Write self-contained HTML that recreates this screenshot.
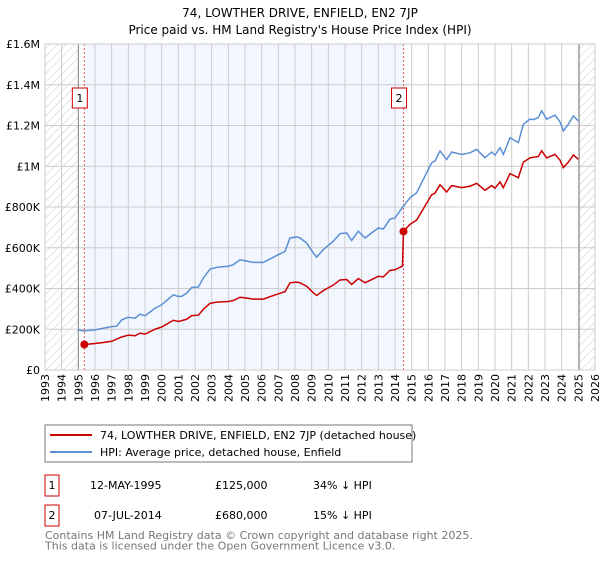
<!DOCTYPE html>
<html><head><meta charset="utf-8"><style>
body{margin:0;background:#fff;font-family:"Liberation Sans","DejaVu Sans",sans-serif;}
svg text{font-family:"DejaVu Sans","Liberation Sans",sans-serif;}
</style></head><body>
<svg id="c" width="600" height="560" xmlns="http://www.w3.org/2000/svg">
<defs><pattern id="h" width="6" height="6" patternUnits="userSpaceOnUse" patternTransform="rotate(45)"><line x1="0" y1="0" x2="0" y2="6" stroke="#bbb" stroke-width="0.8"/></pattern></defs>
<text x="300" y="17" text-anchor="middle" font-size="12">74, LOWTHER DRIVE, ENFIELD, EN2 7JP</text>
<text x="300" y="34" text-anchor="middle" font-size="12">Price paid vs. HM Land Registry's House Price Index (HPI)</text>
<g id="plot"></g>
<g>
<rect x="45" y="425" width="367" height="37" fill="#fff" stroke="#777"/>
<line x1="50" y1="435" x2="92" y2="435" stroke="#cc0000" stroke-width="2"/>
<text x="100" y="439" font-size="11">74, LOWTHER DRIVE, ENFIELD, EN2 7JP (detached house)</text>
<line x1="50" y1="452" x2="92" y2="452" stroke="#5b8fd4" stroke-width="2"/>
<text x="100" y="456" font-size="11">HPI: Average price, detached house, Enfield</text>
</g>
<g font-size="11">
<rect x="45" y="475" width="14" height="21" fill="#fff" stroke="#cc0000"/><text x="52" y="489" text-anchor="middle">1</text>
<text x="90" y="489">12-MAY-1995</text><text x="215" y="489">£125,000</text><text x="313" y="489">34% ↓ HPI</text>
<rect x="45" y="505" width="14" height="21" fill="#fff" stroke="#cc0000"/><text x="52" y="519" text-anchor="middle">2</text>
<text x="94" y="519">07-JUL-2014</text><text x="215" y="519">£680,000</text><text x="313" y="519">15% ↓ HPI</text>
</g>
</svg>
<script>
const years=[1993,1994,1995,1996,1997,1998,1999,2000,2001,2002,2003,2004,2005,2006,2007,2008,2009,2010,2011,2012,2013,2014,2015,2016,2017,2018,2019,2020,2021,2022,2023,2024,2025,2026];
const yTicks=[0,200000,400000,600000,800000,1000000,1200000,1400000,1600000];
const yTickLabels=["£0","£200K","£400K","£600K","£800K","£1M","£1.2M","£1.4M","£1.6M"];
const hpiT=[1995.0,1995.3,1996,1996.5,1997,1997.3,1997.6,1998,1998.4,1998.7,1999,1999.6,2000,2000.7,2001,2001.2,2001.5,2001.8,2002.2,2002.5,2002.9,2003.3,2004,2004.3,2004.7,2005,2005.5,2006.1,2006.5,2007,2007.4,2007.7,2008.1,2008.3,2008.7,2009.1,2009.3,2009.7,2010.3,2010.7,2011.1,2011.4,2011.8,2012.2,2012.6,2013,2013.3,2013.7,2014,2014.5,2014.9,2015.3,2015.8,2016.2,2016.4,2016.7,2017.1,2017.4,2018,2018.5,2018.9,2019.4,2019.8,2020,2020.3,2020.5,2020.9,2021.4,2021.7,2022.1,2022.3,2022.6,2022.8,2023.1,2023.6,2023.9,2024.1,2024.4,2024.7,2025.0];
const hpiV=[197,192,197,205,213,215,246,259,254,274,266,303,320,369,361,362,377,405,407,451,495,504,509,517,541,536,528,528,545,566,582,648,653,648,623,574,554,591,632,669,673,636,681,648,673,697,692,741,746,804,845,870,952,1017,1026,1075,1033,1070,1058,1066,1083,1042,1070,1054,1091,1058,1140,1116,1206,1231,1229,1239,1272,1231,1251,1218,1174,1206,1247,1222];
const ppT=[1995.36,1996,1996.5,1997,1997.6,1998,1998.4,1998.7,1999,1999.6,2000,2000.7,2001,2001.5,2001.8,2002.2,2002.5,2002.9,2003.3,2004,2004.3,2004.7,2005,2005.5,2006.1,2006.5,2007,2007.4,2007.7,2008.1,2008.3,2008.7,2009.1,2009.3,2009.7,2010.3,2010.7,2011.1,2011.4,2011.8,2012.2,2012.6,2013,2013.3,2013.7,2014,2014.45,2014.51,2014.9,2015.3,2015.8,2016.2,2016.4,2016.7,2017.1,2017.4,2018,2018.5,2018.9,2019.4,2019.8,2020,2020.3,2020.5,2020.9,2021.4,2021.7,2022.1,2022.6,2022.8,2023.1,2023.6,2023.9,2024.1,2024.4,2024.7,2025.0];
const ppV=[125,130,135,141,162,171,168,181,176,200,211,244,238,249,267,269,298,327,333,336,341,357,354,348,348,360,374,384,428,431,428,411,379,366,390,417,442,444,420,449,428,444,460,457,489,492,510,680,715,736,805,860,868,909,874,905,895,902,916,882,905,892,923,895,964,944,1020,1041,1048,1076,1041,1058,1030,993,1020,1055,1034];
const saleT=[1995.36,2014.51];
const saleV=[125000,680000];
const saleLabels=["1","2"];
const L=45,R=595,T=44,B=370;
const x=t=>L+(t-1993)/(2026-1993)*(R-L);
const y=v=>B-v/1600000*(B-T);
const NS="http://www.w3.org/2000/svg";
const g=document.getElementById('plot');
function mk(tag,a,p){const e=document.createElementNS(NS,tag);for(const k in a)e.setAttribute(k,a[k]);(p||g).appendChild(e);return e;}
let e;
e=mk('rect',{x:x(saleT[0]),y:T,width:x(saleT[1])-x(saleT[0]),height:B-T,fill:'#f2f6fe'});


e=mk('rect',{x:L,y:T,width:x(1995)-L,height:B-T,fill:'url(#h)'});


e=mk('rect',{x:x(2025.05),y:T,width:R-x(2025.05),height:B-T,fill:'url(#h)'});


years.forEach(yr=>{
 e=mk('line',{x1:x(yr),x2:x(yr),y1:T,y2:B,stroke:'#ccc','stroke-width':1});
 
 
 const tx=x(yr)+4;
 e=mk('text',{x:0,y:0,'font-size':11,'text-anchor':'end',transform:`translate(${tx},374) rotate(-90)`});
 e.textContent=yr;
 
 
});
yTicks.forEach((v,i)=>{
 e=mk('line',{x1:L,x2:R,y1:y(v),y2:y(v),stroke:'#ccc','stroke-width':1});
 
 
 e=mk('text',{x:40,y:y(v)+4,'font-size':11,'text-anchor':'end'});
 e.textContent=yTickLabels[i];
 
 
});
e=mk('line',{x1:x(1995),x2:x(1995),y1:T,y2:B,stroke:'#888','stroke-width':1});


e=mk('line',{x1:x(2025.05),x2:x(2025.05),y1:T,y2:B,stroke:'#888','stroke-width':1});


saleT.forEach((t,i)=>{
 e=mk('line',{x1:x(t),x2:x(t),y1:T,y2:B,stroke:'#e06060','stroke-width':1,'stroke-dasharray':'2,2'});
 
 
});
e=mk('polyline',{points:hpiT.map((t,i)=>x(t)+','+y(hpiV[i]*1000)).join(' '),fill:'none',stroke:'#5b8fd4','stroke-width':1.5});


e=mk('polyline',{points:ppT.map((t,i)=>x(t)+','+y(ppV[i]*1000)).join(' '),fill:'none',stroke:'#cc0000','stroke-width':1.5});


saleT.forEach((t,i)=>{
 e=mk('circle',{cx:x(t),cy:y(saleV[i]),r:4,fill:'#cc0000'});
 
 
 e=mk('rect',{x:x(t)-12,y:88,width:15,height:20,fill:'#fff',stroke:'#cc0000'});
 
 
 e=mk('text',{x:x(t)-4.5,y:102,'font-size':11,'text-anchor':'middle'});
 e.textContent=saleLabels[i];
 
 
});
e=mk('rect',{x:L,y:T,width:R-L,height:B-T,fill:'none',stroke:'#ccc'});


const svg=document.getElementById('c');
['Contains HM Land Registry data © Crown copyright and database right 2025.','This data is licensed under the Open Government Licence v3.0.'].forEach((s,i)=>{
 e=mk('text',{x:45,y:539+i*10.5,'font-size':11,fill:'#777'},svg);
 e.textContent=s;
 
 
});
</script>
</body></html>
